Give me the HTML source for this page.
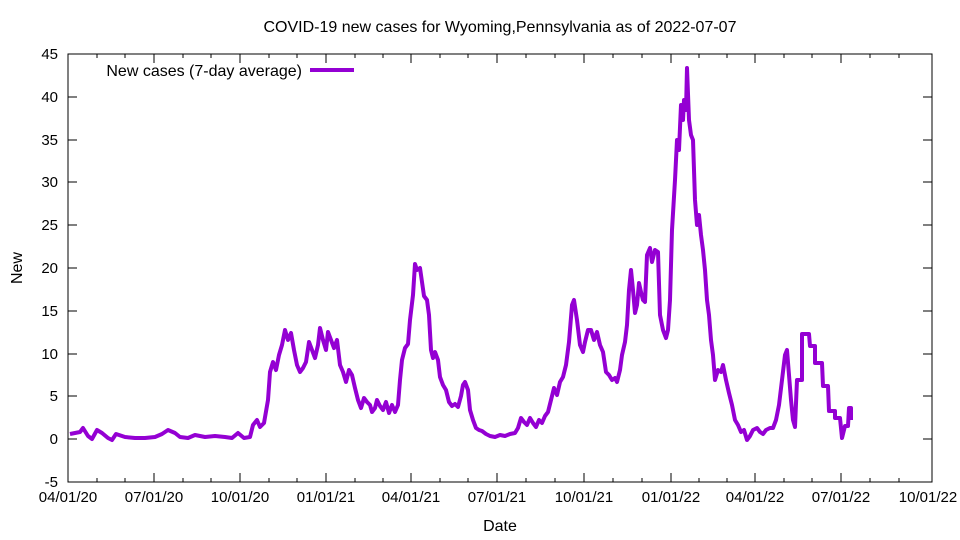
<!DOCTYPE html><html><head><style>body{margin:0;background:#fff}svg{display:block}text{font-family:"Liberation Sans",sans-serif;font-size:15px;fill:#000}.b{font-size:16px}</style></head><body>
<svg width="960" height="540" xmlns="http://www.w3.org/2000/svg">
<rect x="68" y="54" width="864" height="428" fill="none" stroke="#000" stroke-width="1"/>
<text class="b" x="500" y="32" text-anchor="middle">COVID-19 new cases for Wyoming,Pennsylvania as of 2022-07-07</text>
<text class="b" x="500" y="531" text-anchor="middle">Date</text>
<text class="b" x="22" y="268" text-anchor="middle" transform="rotate(-90 22 268)">New</text>
<g text-anchor="end">
<text x="58" y="487">-5</text><text x="58" y="444">0</text><text x="58" y="401">5</text><text x="58" y="359">10</text><text x="58" y="316">15</text><text x="58" y="273">20</text><text x="58" y="230">25</text><text x="58" y="187">30</text><text x="58" y="145">35</text><text x="58" y="102">40</text><text x="58" y="59">45</text>
</g>
<g text-anchor="middle">
<text x="68" y="502">04/01/20</text><text x="154" y="502">07/01/20</text><text x="240" y="502">10/01/20</text><text x="326" y="502">01/01/21</text><text x="411" y="502">04/01/21</text><text x="497" y="502">07/01/21</text><text x="584" y="502">10/01/21</text><text x="671" y="502">01/01/22</text><text x="755" y="502">04/01/22</text><text x="841" y="502">07/01/22</text><text x="928" y="502">10/01/22</text>
</g>
<path stroke="#000" d="M68 482h9M932 482h-9M68 439h9M932 439h-9M68 396h9M932 396h-9M68 354h9M932 354h-9M68 311h9M932 311h-9M68 268h9M932 268h-9M68 225h9M932 225h-9M68 182h9M932 182h-9M68 140h9M932 140h-9M68 97h9M932 97h-9
M154 482v-9M154 54v9M240 482v-9M240 54v9M326 482v-9M326 54v9M411 482v-9M411 54v9M497 482v-9M497 54v9M584 482v-9M584 54v9M671 482v-9M671 54v9M755 482v-9M755 54v9M841 482v-9M841 54v9
M97 482v-4M97 54v4M125 482v-4M125 54v4M183 482v-4M183 54v4M211 482v-4M211 54v4M269 482v-4M269 54v4M297 482v-4M297 54v4M355 482v-4M355 54v4M383 482v-4M383 54v4M440 482v-4M440 54v4M468 482v-4M468 54v4M526 482v-4M526 54v4M555 482v-4M555 54v4M613 482v-4M613 54v4M642 482v-4M642 54v4M699 482v-4M699 54v4M727 482v-4M727 54v4M784 482v-4M784 54v4M812 482v-4M812 54v4M870 482v-4M870 54v4M899 482v-4M899 54v4"/>
<text class="b" x="302" y="76" text-anchor="end">New cases (7-day average)</text>
<line x1="310" y1="70" x2="354" y2="70" stroke="#9400d3" stroke-width="4"/>
<polyline fill="none" stroke="#9400d3" stroke-width="4" stroke-linejoin="round" points="70,434 80,432 83,428 88,436 92,439 97,430 102,433 108,438 112,440 116,434 125,437 135,438 145,438 155,437 162,434 168,430 175,433 180,437 188,438 195,435 205,437 215,436 225,437 232,438 238,433 244,438 250,437 253,425 257,420 260,427 264,423 268,400 270,372 273,362 276,370 279,355 282,345 285,330 288,340 291,333 294,350 297,365 300,372 303,368 306,362 309,342 312,350 315,358 318,345 320,328 323,340 326,350 328,332 331,340 334,348 337,340 340,365 343,372 346,382 349,370 352,375 355,388 358,400 361,408 364,398 367,402 370,405 372,412 375,408 377,400 380,406 383,410 386,402 389,413 392,405 395,412 398,405 400,380 402,360 405,348 408,344 410,320 413,295 415,264 417,270 420,268 422,282 424,296 427,300 429,315 431,350 433,358 435,352 438,360 440,377 443,385 446,390 449,402 452,406 455,404 458,407 461,396 463,385 465,382 468,390 470,410 473,420 476,428 479,430 482,431 486,434 490,436 495,437 500,435 505,436 510,434 515,433 518,428 521,418 524,422 527,425 530,418 533,423 536,427 539,420 542,423 545,416 548,412 551,400 554,388 557,395 560,382 563,377 566,365 569,342 572,305 574,300 577,320 580,345 583,352 585,342 588,330 591,330 594,340 597,332 600,345 603,352 606,372 609,375 612,380 615,378 617,382 620,370 622,355 625,342 627,325 629,290 631,270 633,290 635,313 637,305 639,283 641,292 643,300 645,302 647,255 650,248 652,262 655,250 658,252 660,315 663,330 666,338 668,330 670,300 672,230 675,180 677,140 679,150 681,105 683,120 684,100 686,110 687,68 689,120 691,135 693,140 695,200 697,225 699,215 701,235 703,250 705,270 707,300 709,315 711,340 713,355 715,380 718,370 721,372 723,365 726,380 729,393 732,405 735,420 738,425 741,432 744,430 747,440 750,436 753,430 757,428 760,432 763,434 766,430 770,428 773,428 776,420 779,405 782,380 785,355 787,350 789,375 791,400 793,420 795,427 797,380 802,380 802,334 809,334 810,346 815,346 815,363 822,363 823,386 828,386 829,411 835,411 835,418 840,418 842,438 845,426 848,426 849,408 851,408 851,420"/>
</svg>
</body></html>
